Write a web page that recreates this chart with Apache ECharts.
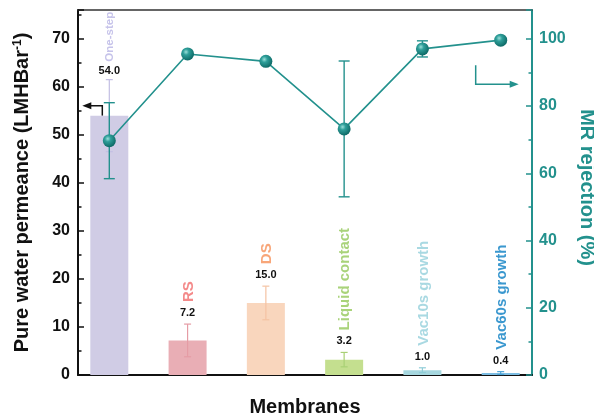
<!DOCTYPE html>
<html>
<head>
<meta charset="utf-8">
<script src="https://cdn.jsdelivr.net/npm/echarts@6/dist/echarts.min.js"></script>
<style>
  html, body { margin: 0; padding: 0; background: #fff; }
  #chart { width: 594px; height: 416px; }
</style>
</head>
<body>
<div id="chart"></div>
<script>
// Membrane types (one bar + one rejection point per type)
const categories = ['One-step', 'RS', 'DS', 'Liquid contact', 'Vac10s growth', 'Vac60s growth'];
// Pure water permeance, LMH/bar, with error
const permeance = [54.0, 7.2, 15.0, 3.2, 1.0, 0.4];
const permeanceErr = [7.5, 3.4, 3.5, 1.5, 0.5, 0.3];
// MR rejection, %, with error
const rejection = [69.7, 95.5, 93.3, 73.2, 97.0, 99.6];
const rejectionErr = [11.3, 0.5, 0.5, 20.2, 2.4, 0.8];

// Colours per membrane
const barColors = ['#d0cce5', '#e9aeb5', '#f9d6bd', '#c4df8f', '#a6d7df', '#7cbde3'];
const errColors = ['#c3bfe3', '#e59ca5', '#f4c3a3', '#a9d075', '#8fcdd7', '#4da4d7'];
const nameColors = ['#c6c3ea', '#f48a8a', '#f8a679', '#a9d37a', '#a9d9e2', '#3b98cf'];
const TEAL = '#23918d';
const FONT = '"Liberation Sans", Arial, Helvetica, sans-serif';

const xPos = categories.map((_, i) => i + 1);
const LEFT_MAX = 76;
const RIGHT_MAX = LEFT_MAX / 70 * 100;   // 70 on the left lines up with 100 on the right

const measureCtx = document.createElement('canvas').getContext('2d');
function textWidth(txt, size) {
  measureCtx.font = 'bold ' + size + 'px ' + FONT;
  return measureCtx.measureText(txt).width;
}

const chart = echarts.init(document.getElementById('chart'), null, { renderer: 'canvas' });

const barData = categories.map((c, i) => ({
  value: [xPos[i], permeance[i]],
  itemStyle: { color: barColors[i] }
}));
const barErrData = categories.map((c, i) => [xPos[i], permeance[i], permeanceErr[i], i]);
const lineData = categories.map((c, i) => [xPos[i], rejection[i]]);
const lineErrData = categories.map((c, i) => [xPos[i], rejection[i], rejectionErr[i]]);

// error bar + value label + rotated membrane name above each bar
function renderBarErr(params, api) {
  const x = api.value(0), v = api.value(1), e = api.value(2), idx = api.value(3);
  const top = api.coord([x, v + e]);
  const bot = api.coord([x, v - e]);
  const cap = 3.5;
  const color = errColors[idx];
  const plotTop = params.coordSys.y + 2;
  let size = 15;
  const natural = textWidth(categories[idx], size);
  // normal spacing, tightened (and the name shrunk) when the name would hit the top frame
  let valueY = top[1] - 11;
  let nameStart = valueY - 11;
  if (natural > nameStart - plotTop) {
    valueY = top[1] - 9;
    nameStart = valueY - 9;
    size = size * (nameStart - plotTop) / natural;
  }
  return {
    type: 'group',
    children: [
      { type: 'line', shape: { x1: top[0], y1: top[1], x2: bot[0], y2: bot[1] }, style: { stroke: color, lineWidth: 1.2 } },
      { type: 'line', shape: { x1: top[0] - cap, y1: top[1], x2: top[0] + cap, y2: top[1] }, style: { stroke: color, lineWidth: 1.2 } },
      { type: 'line', shape: { x1: bot[0] - cap, y1: bot[1], x2: bot[0] + cap, y2: bot[1] }, style: { stroke: color, lineWidth: 1.2 } },
      { type: 'text', x: top[0], y: valueY,
        style: { text: permeance[idx].toFixed(1), fill: '#111', font: 'bold 11px ' + FONT, align: 'center', verticalAlign: 'middle' } },
      { type: 'text', x: top[0] + 1, y: nameStart, rotation: Math.PI / 2,
        style: { text: categories[idx], fill: nameColors[idx], font: 'bold ' + size.toFixed(1) + 'px ' + FONT, align: 'left', verticalAlign: 'middle' } }
    ]
  };
}

function renderLineErr(params, api) {
  const x = api.value(0), v = api.value(1), e = api.value(2);
  const top = api.coord([x, v + e]);
  const bot = api.coord([x, v - e]);
  const cap = 5.5;
  const st = { stroke: TEAL, lineWidth: 1.4 };
  return {
    type: 'group',
    children: [
      { type: 'line', shape: { x1: top[0], y1: top[1], x2: bot[0], y2: bot[1] }, style: st },
      { type: 'line', shape: { x1: top[0] - cap, y1: top[1], x2: top[0] + cap, y2: top[1] }, style: st },
      { type: 'line', shape: { x1: bot[0] - cap, y1: bot[1], x2: bot[0] + cap, y2: bot[1] }, style: st }
    ]
  };
}

const tickLabel = { fontFamily: FONT, fontWeight: 'bold', fontSize: 16 };

chart.setOption({
  animation: false,
  backgroundColor: '#fff',
  grid: { left: 78, right: 62, top: 10, bottom: 41, containLabel: false, outerBoundsMode: 'none' },
  xAxis: [
    {
      type: 'value', min: 0.6, max: 6.4,
      axisLine: { show: true, onZero: false, lineStyle: { color: '#111', width: 2 } },
      axisTick: { show: false }, axisLabel: { show: false }, splitLine: { show: false },
      name: 'Membranes', nameLocation: 'middle', nameGap: 22,
      nameTextStyle: { fontFamily: FONT, fontWeight: 'bold', fontSize: 20, color: '#111' }
    },
    {
      type: 'value', min: 0.6, max: 6.4, position: 'top',
      axisLine: { show: true, onZero: false, lineStyle: { color: '#333', width: 1.5 } },
      axisTick: { show: false }, axisLabel: { show: false }, splitLine: { show: false }
    }
  ],
  yAxis: [
    {
      type: 'value', min: 0, max: LEFT_MAX, interval: 10, position: 'left',
      axisLine: { show: true, onZero: false, lineStyle: { color: '#111', width: 2 } },
      axisTick: { show: true, inside: true, length: 6, lineStyle: { color: '#111', width: 1.5 } },
      minorTick: { show: true, splitNumber: 2, length: 3.5, lineStyle: { color: '#111', width: 1.5 } },
      axisLabel: Object.assign({ color: '#111', margin: 8, showMaxLabel: false }, tickLabel),
      splitLine: { show: false },
      name: 'Pure water permeance (LMHBar{sup|-1})', nameLocation: 'middle', nameGap: 46, nameRotate: 90,
      nameTextStyle: {
        fontFamily: FONT, fontWeight: 'bold', fontSize: 20, color: '#111',
        rich: { sup: { fontFamily: FONT, fontWeight: 'bold', fontSize: 12, color: '#111', verticalAlign: 'top', lineHeight: 20 } }
      }
    },
    {
      type: 'value', min: 0, max: RIGHT_MAX, interval: 20, position: 'right',
      axisLine: { show: true, onZero: false, lineStyle: { color: TEAL, width: 2 } },
      axisTick: { show: true, inside: true, length: 6, lineStyle: { color: TEAL, width: 1.5 } },
      minorTick: { show: true, splitNumber: 2, length: 3.5, lineStyle: { color: TEAL, width: 1.5 } },
      axisLabel: Object.assign({ color: TEAL, margin: 7, showMaxLabel: false }, tickLabel),
      splitLine: { show: false },
      name: 'MR rejection (%)', nameLocation: 'middle', nameGap: 34, nameRotate: -90,
      nameTextStyle: { fontFamily: FONT, fontWeight: 'bold', fontSize: 20, color: TEAL, padding: [0, 10, 0, 0] }
    }
  ],
  series: [
    {
      type: 'bar', xAxisIndex: 0, yAxisIndex: 0, barWidth: 38, z: 1,
      data: barData
    },
    {
      type: 'custom', xAxisIndex: 0, yAxisIndex: 0, z: 2,
      renderItem: renderBarErr, data: barErrData, clip: false
    },
    {
      type: 'custom', xAxisIndex: 0, yAxisIndex: 1, z: 3,
      renderItem: renderLineErr, data: lineErrData
    },
    {
      type: 'line', xAxisIndex: 0, yAxisIndex: 1, z: 4,
      data: lineData, symbol: 'circle', symbolSize: 13,
      lineStyle: { color: TEAL, width: 1.6 },
      itemStyle: {
        color: new echarts.graphic.RadialGradient(0.38, 0.35, 0.65, [
          { offset: 0, color: '#9be0da' },
          { offset: 0.35, color: '#2f9f9a' },
          { offset: 1, color: '#0e6b67' }
        ]),
        borderWidth: 0
      }
    }
  ]
});

// bracket arrows pointing each dataset to its axis
function arrowGroup(points, color, dir) {
  const end = points[points.length - 1];
  const head = dir < 0
    ? [[end[0], end[1]], [end[0] + 9, end[1] - 3.5], [end[0] + 9, end[1] + 3.5]]
    : [[end[0], end[1]], [end[0] - 9, end[1] - 3.5], [end[0] - 9, end[1] + 3.5]];
  return {
    type: 'group',
    children: [
      { type: 'polyline', shape: { points: points.slice(0, -1).concat([[end[0] - dir * 8, end[1]]]) }, style: { stroke: color, lineWidth: 1.5, fill: null } },
      { type: 'polygon', shape: { points: head }, style: { fill: color } }
    ]
  };
}
const p1 = chart.convertToPixel({ xAxisIndex: 0, yAxisIndex: 0 }, [xPos[0], permeance[0]]);
const p6 = chart.convertToPixel({ xAxisIndex: 0, yAxisIndex: 1 }, [xPos[5], rejection[5]]);
chart.setOption({
  graphic: [
    arrowGroup([[p1[0] - 7, p1[1]], [p1[0] - 7, p1[1] - 10], [p1[0] - 27, p1[1] - 10]], '#111', -1),
    arrowGroup([[p6[0] - 25, p6[1] + 25], [p6[0] - 25, p6[1] + 44], [p6[0] + 18, p6[1] + 44]], TEAL, 1)
  ]
});
</script>
</body>
</html>
